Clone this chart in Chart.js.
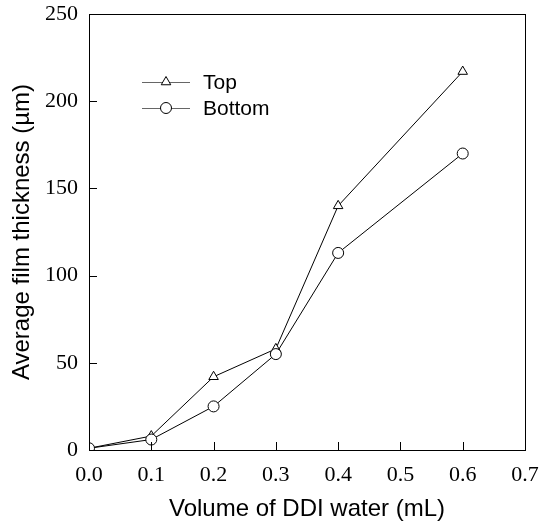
<!DOCTYPE html>
<html>
<head>
<meta charset="utf-8">
<script src="https://cdn.jsdelivr.net/npm/chart.js@4"></script>
<style>
  html, body { margin: 0; padding: 0; background: #fff; }
  #wrap { width: 539px; height: 526px; }
</style>
</head>
<body>
<div id="wrap"><canvas id="thickness-chart"></canvas></div>
<script>
// values
const volumes = [0, 0.1, 0.2, 0.3, 0.4, 0.6];
const topThickness = [1, 8, 42, 58, 140, 217];
const bottomThickness = [1, 6, 25, 55, 113, 170];
const seriesNames = ['Top', 'Bottom'];

const serif = '"Liberation Serif", "Times New Roman", serif';
const sans = '"Liberation Sans", Arial, sans-serif';

// frame, inward ticks and the in-plot legend
const framePlugin = {
  id: 'frame',
  afterDraw(chart) {
    const ctx = chart.ctx;
    const a = chart.chartArea;
    const xs = chart.scales.x;
    const ys = chart.scales.y;
    ctx.save();
    ctx.strokeStyle = '#000';
    ctx.lineWidth = 1;
    ctx.strokeRect(a.left + 0.5, a.top + 0.5, a.right - a.left, a.bottom - a.top);

    ctx.beginPath();
    xs.ticks.forEach(t => {
      if (t.value <= xs.min + 1e-9 || t.value >= xs.max - 1e-9) return;
      const px = Math.round(xs.getPixelForValue(t.value)) + 0.5;
      ctx.moveTo(px, a.bottom);
      ctx.lineTo(px, a.bottom - 8);
    });
    ys.ticks.forEach(t => {
      if (t.value <= ys.min || t.value >= ys.max) return;
      const py = Math.round(ys.getPixelForValue(t.value)) + 0.5;
      ctx.moveTo(a.left, py);
      ctx.lineTo(a.left + 8, py);
    });
    ctx.stroke();

    // legend
    const rows = [
      { label: seriesNames[0], style: 'triangle', y: 82 },
      { label: seriesNames[1], style: 'circle', y: 108 }
    ];
    rows.forEach(r => {
      ctx.strokeStyle = '#666';
      ctx.beginPath();
      ctx.moveTo(142, r.y + 0.5);
      ctx.lineTo(190, r.y + 0.5);
      ctx.stroke();
      ctx.fillStyle = '#fff';
      ctx.strokeStyle = '#000';
      Chart.helpers.drawPoint(ctx, {
        pointStyle: r.style, radius: 5.5, rotation: 0, borderWidth: 1
      }, 166, r.y);
      ctx.fillStyle = '#000';
      ctx.font = '21px ' + sans;
      ctx.textBaseline = 'middle';
      ctx.textAlign = 'left';
      ctx.fillText(r.label, 203, r.y + 1);
    });
    ctx.restore();
  }
};

const ctx = document.getElementById('thickness-chart').getContext('2d');
new Chart(ctx, {
  type: 'line',
  data: {
    datasets: [
      {
        label: seriesNames[0],
        data: volumes.map((v, i) => ({ x: v, y: topThickness[i] })),
        borderColor: '#000',
        borderWidth: 1,
        pointStyle: 'triangle',
        pointRadius: 5.5,
        pointBackgroundColor: '#fff',
        pointBorderColor: '#000',
        pointBorderWidth: 1,
        tension: 0,
        order: 2
      },
      {
        label: seriesNames[1],
        data: volumes.map((v, i) => ({ x: v, y: bottomThickness[i] })),
        borderColor: '#000',
        borderWidth: 1,
        pointStyle: 'circle',
        pointRadius: 5.5,
        pointBackgroundColor: '#fff',
        pointBorderColor: '#000',
        pointBorderWidth: 1,
        tension: 0,
        order: 1
      }
    ]
  },
  options: {
    responsive: true,
    maintainAspectRatio: false,
    animation: false,
    layout: { padding: { top: 14, right: 14, left: 0, bottom: 0 } },
    plugins: {
      legend: { display: false },
      tooltip: { enabled: false }
    },
    scales: {
      x: {
        type: 'linear',
        min: 0,
        max: 0.7,
        afterFit: s => { s.height = 76; s.paddingLeft = 0; s.paddingRight = 0; },
        ticks: {
          stepSize: 0.1,
          padding: 12,
          color: '#000',
          font: { family: serif, size: 22 },
          callback: v => v.toFixed(1)
        },
        grid: { drawOnChartArea: false, drawTicks: false },
        border: { display: false },
        title: {
          display: true,
          text: 'Volume of DDI water (mL)',
          color: '#000',
          font: { family: sans, size: 24 },
          padding: { top: 0, bottom: 2 }
        }
      },
      y: {
        min: 0,
        max: 250,
        afterFit: s => { s.width = 89; s.paddingTop = 0; s.paddingBottom = 0; },
        ticks: {
          stepSize: 50,
          padding: 11,
          color: '#000',
          font: { family: serif, size: 22 }
        },
        grid: { drawOnChartArea: false, drawTicks: false },
        border: { display: false },
        title: {
          display: true,
          text: 'Average film thickness (\u00b5m)',
          color: '#000',
          font: { family: sans, size: 24 },
          padding: { top: 8, bottom: 0 }
        }
      }
    }
  },
  plugins: [framePlugin]
});
</script>
</body>
</html>
